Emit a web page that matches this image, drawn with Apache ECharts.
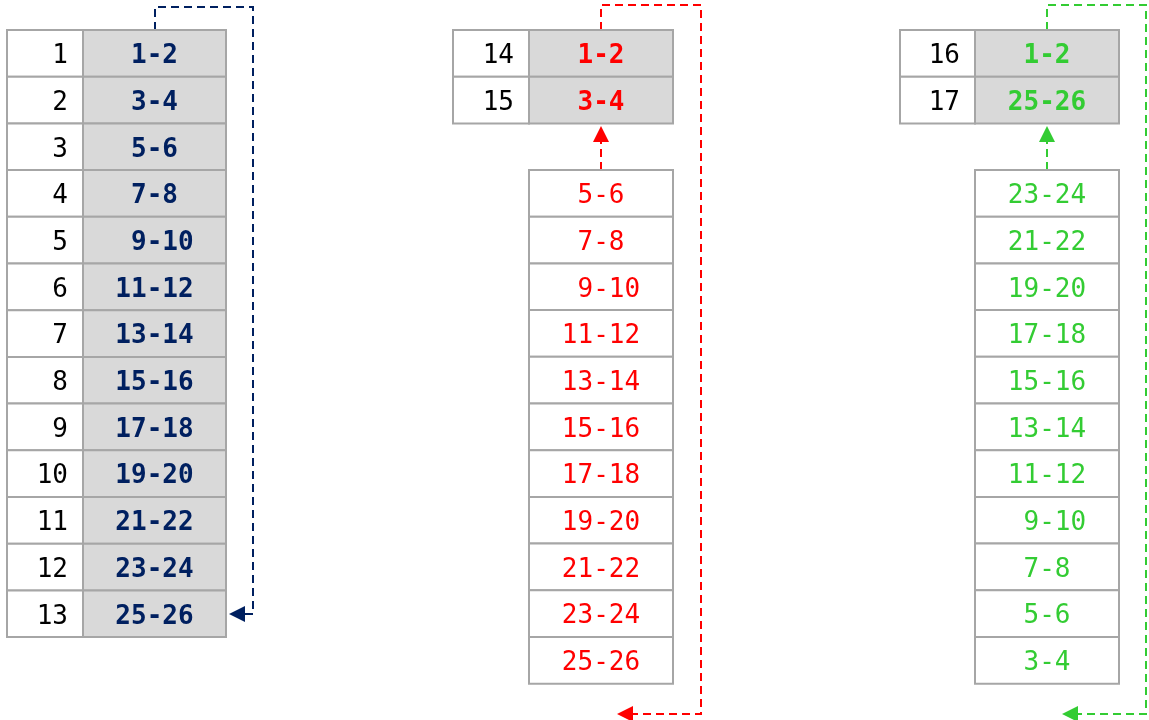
<!DOCTYPE html>
<html>
<head>
<meta charset="utf-8">
<script src="https://cdn.jsdelivr.net/npm/echarts@6/dist/echarts.min.js"></script>
<style>
html,body{margin:0;padding:0;background:#fff;}
#main{width:1149px;height:720px;}
</style>
</head>
<body>
<div id="main"></div>
<script>
// data
var leftIds = [1,2,3,4,5,6,7,8,9,10,11,12,13];
var leftRanges = ['1-2','3-4','5-6','7-8',' 9-10','11-12','13-14','15-16','17-18','19-20','21-22','23-24','25-26'];
var midTopIds = [14,15];
var midTopRanges = ['1-2','3-4'];
var midBottomRanges = ['5-6','7-8',' 9-10','11-12','13-14','15-16','17-18','19-20','21-22','23-24','25-26'];
var rightTopIds = [16,17];
var rightTopRanges = ['1-2','25-26'];
var rightBottomRanges = ['23-24','21-22','19-20','17-18','15-16','13-14','11-12',' 9-10','7-8','5-6','3-4'];

// layout / styles
var ROW_H = 46.7;
var TEXT_DY = 3;
var NAVY = '#002060', RED = '#FF0000', GREEN = '#33CC33';
var BORDER = '#A6A6A6', FILL = '#D9D9D9';
var FONT = '"DejaVu Sans Mono", monospace';

var tables = [
	{ids: leftIds, ranges: leftRanges, x0: 7, x1: 83, x2: 226, y0: 30, color: NAVY, bold: true, fill: true},
	{ids: midTopIds, ranges: midTopRanges, x0: 453, x1: 529, x2: 673, y0: 30, color: RED, bold: true, fill: true},
	{ids: null, ranges: midBottomRanges, x1: 529, x2: 673, y0: 170, color: RED, bold: false, fill: false},
	{ids: rightTopIds, ranges: rightTopRanges, x0: 900, x1: 975, x2: 1119, y0: 30, color: GREEN, bold: true, fill: true},
	{ids: null, ranges: rightBottomRanges, x1: 975, x2: 1119, y0: 170, color: GREEN, bold: false, fill: false}
];

// arrow routes
var arrows = [
	{color: NAVY, pts: [[155,30],[155,7],[253,7],[253,614],[229,614]]},
	{color: RED, pts: [[601,30],[601,5],[701,5],[701,714],[617,714]]},
	{color: RED, pts: [[601,170],[601,126]]},
	{color: GREEN, pts: [[1047,30],[1047,5],[1146,5],[1146,714],[1062,714]]},
	{color: GREEN, pts: [[1047,170],[1047,126]]}
];

var cellData = [];
tables.forEach(function (t, ti) {
	t.ranges.forEach(function (r, ri) { cellData.push([ti, ri]); });
});
var arrowData = arrows.map(function (a, i) { return [i]; });

function renderCell(params, api) {
	var t = tables[api.value(0)];
	var ri = api.value(1);
	var top = t.y0 + ri * ROW_H;
	var children = [];
	var a, b;
	if (t.ids) {
		a = api.coord([t.x0, top]);
		b = api.coord([t.x1, top + ROW_H]);
		children.push({type: 'rect', shape: {x: a[0], y: a[1], width: b[0] - a[0], height: b[1] - a[1]},
			style: {fill: '#fff', stroke: BORDER, lineWidth: 2}});
		children.push({type: 'text', style: {text: String(t.ids[ri]), x: b[0] - 15, y: (a[1] + b[1]) / 2 + TEXT_DY,
			align: 'right', verticalAlign: 'middle', font: '26px ' + FONT, fill: '#000'}});
	}
	a = api.coord([t.x1, top]);
	b = api.coord([t.x2, top + ROW_H]);
	children.push({type: 'rect', shape: {x: a[0], y: a[1], width: b[0] - a[0], height: b[1] - a[1]},
		style: {fill: t.fill ? FILL : '#fff', stroke: BORDER, lineWidth: 2}});
	children.push({type: 'text', style: {text: t.ranges[ri], x: (a[0] + b[0]) / 2, y: (a[1] + b[1]) / 2 + TEXT_DY,
		align: 'center', verticalAlign: 'middle', font: (t.bold ? 'bold ' : '') + '26px ' + FONT, fill: t.color}});
	return {type: 'group', children: children};
}

function renderArrow(params, api) {
	var ar = arrows[api.value(0)];
	var pts = ar.pts.map(function (p) { return api.coord(p); });
	var n = pts.length;
	var tip = pts[n - 1], prev = pts[n - 2];
	var dx = tip[0] - prev[0], dy = tip[1] - prev[1];
	var len = Math.sqrt(dx * dx + dy * dy);
	dx /= len; dy /= len;
	var headLen = 16, hw = 8;
	var base = [tip[0] - dx * headLen, tip[1] - dy * headLen];
	var line = pts.slice(0, n - 1).concat([base]);
	return {type: 'group', children: [
		{type: 'polyline', shape: {points: line}, style: {stroke: ar.color, lineWidth: 2, lineDash: [8, 5], fill: null}},
		{type: 'polygon', shape: {points: [tip, [base[0] - dy * hw, base[1] + dx * hw], [base[0] + dy * hw, base[1] - dx * hw]]},
			style: {fill: ar.color}}
	]};
}

var chart = echarts.init(document.getElementById('main'));
chart.setOption({
	animation: false,
	grid: {left: 0, right: 0, top: 0, bottom: 0},
	xAxis: {type: 'value', min: 0, max: 1149, show: false},
	yAxis: {type: 'value', min: 0, max: 720, inverse: true, show: false},
	series: [
		{type: 'custom', renderItem: renderArrow, data: arrowData, clip: false, z: 1},
		{type: 'custom', renderItem: renderCell, data: cellData, clip: false, z: 2}
	]
});
</script>
</body>
</html>
